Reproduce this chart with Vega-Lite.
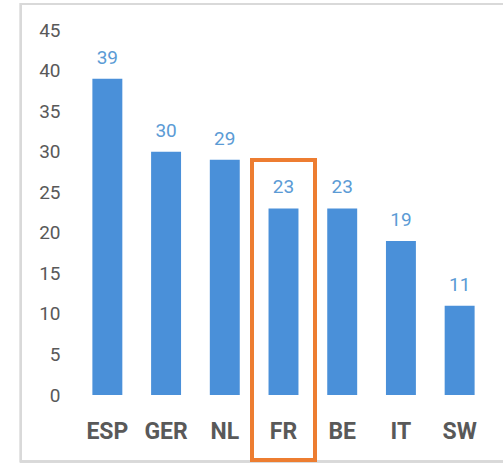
{
  "$schema": "https://vega.github.io/schema/vega-lite/v6.json",
  "width": 411,
  "height": 365,
  "autosize": "none",
  "padding": {"left": 78, "top": 30, "right": 14, "bottom": 68},
  "background": "white",
  "config": {"view": {"stroke": null}, "font": "Roboto"},
  "data": {"values": [
    {"country": "ESP", "value": 39},
    {"country": "GER", "value": 30},
    {"country": "NL", "value": 29},
    {"country": "FR", "value": 23},
    {"country": "BE", "value": 23},
    {"country": "IT", "value": 19},
    {"country": "SW", "value": 11}
  ]},
  "resolve": {"scale": {"x": "independent"}, "axis": {"x": "independent"}},
  "layer": [
    {
      "mark": {"type": "rect", "filled": false, "stroke": "#d9d9d9", "strokeWidth": 2},
      "encoding": {
        "x": {"datum": -0.139, "type": "quantitative", "scale": {"domain": [0, 1], "nice": false, "zero": false}, "axis": null},
        "x2": {"datum": 1.1},
        "y": {"datum": 48.2, "type": "quantitative"},
        "y2": {"datum": -8.2}
      }
    },
    {
      "layer": [
        {
          "mark": {"type": "bar", "color": "#4A90D9"},
          "encoding": {
            "x": {"field": "country", "type": "nominal", "sort": null,
              "scale": {"paddingInner": 0.49, "paddingOuter": 0.245},
              "axis": {"title": null, "ticks": false, "domain": false, "labelAngle": 0,
                "labelFontSize": 23, "labelFontWeight": "bold", "labelColor": "#595959", "labelPadding": 25}},
            "y": {"field": "value", "type": "quantitative",
              "scale": {"domain": [0, 45], "nice": false},
              "axis": {"title": null, "values": [0,5,10,15,20,25,30,35,40,45], "domain": false, "ticks": false,
                "labelFontSize": 19, "labelColor": "#595959", "labelPadding": 18,
                "gridColor": "#d9d9d9", "gridWidth": 2}}
          }
        },
        {
          "mark": {"type": "text", "color": "#5B9BD5", "fontSize": 19, "baseline": "alphabetic", "dy": -15},
          "encoding": {
            "x": {"field": "country", "type": "nominal", "sort": null},
            "y": {"field": "value", "type": "quantitative"},
            "text": {"field": "value", "type": "quantitative"}
          }
        },
        {
          "mark": {"type": "bar", "filled": false, "stroke": "#ED7D31", "strokeWidth": 3.5, "width": {"band": 2.1}},
          "encoding": {
            "x": {"datum": "FR", "type": "nominal"},
            "y": {"datum": 29, "type": "quantitative"},
            "y2": {"datum": -8}
          }
        }
      ]
    }
  ]
}
